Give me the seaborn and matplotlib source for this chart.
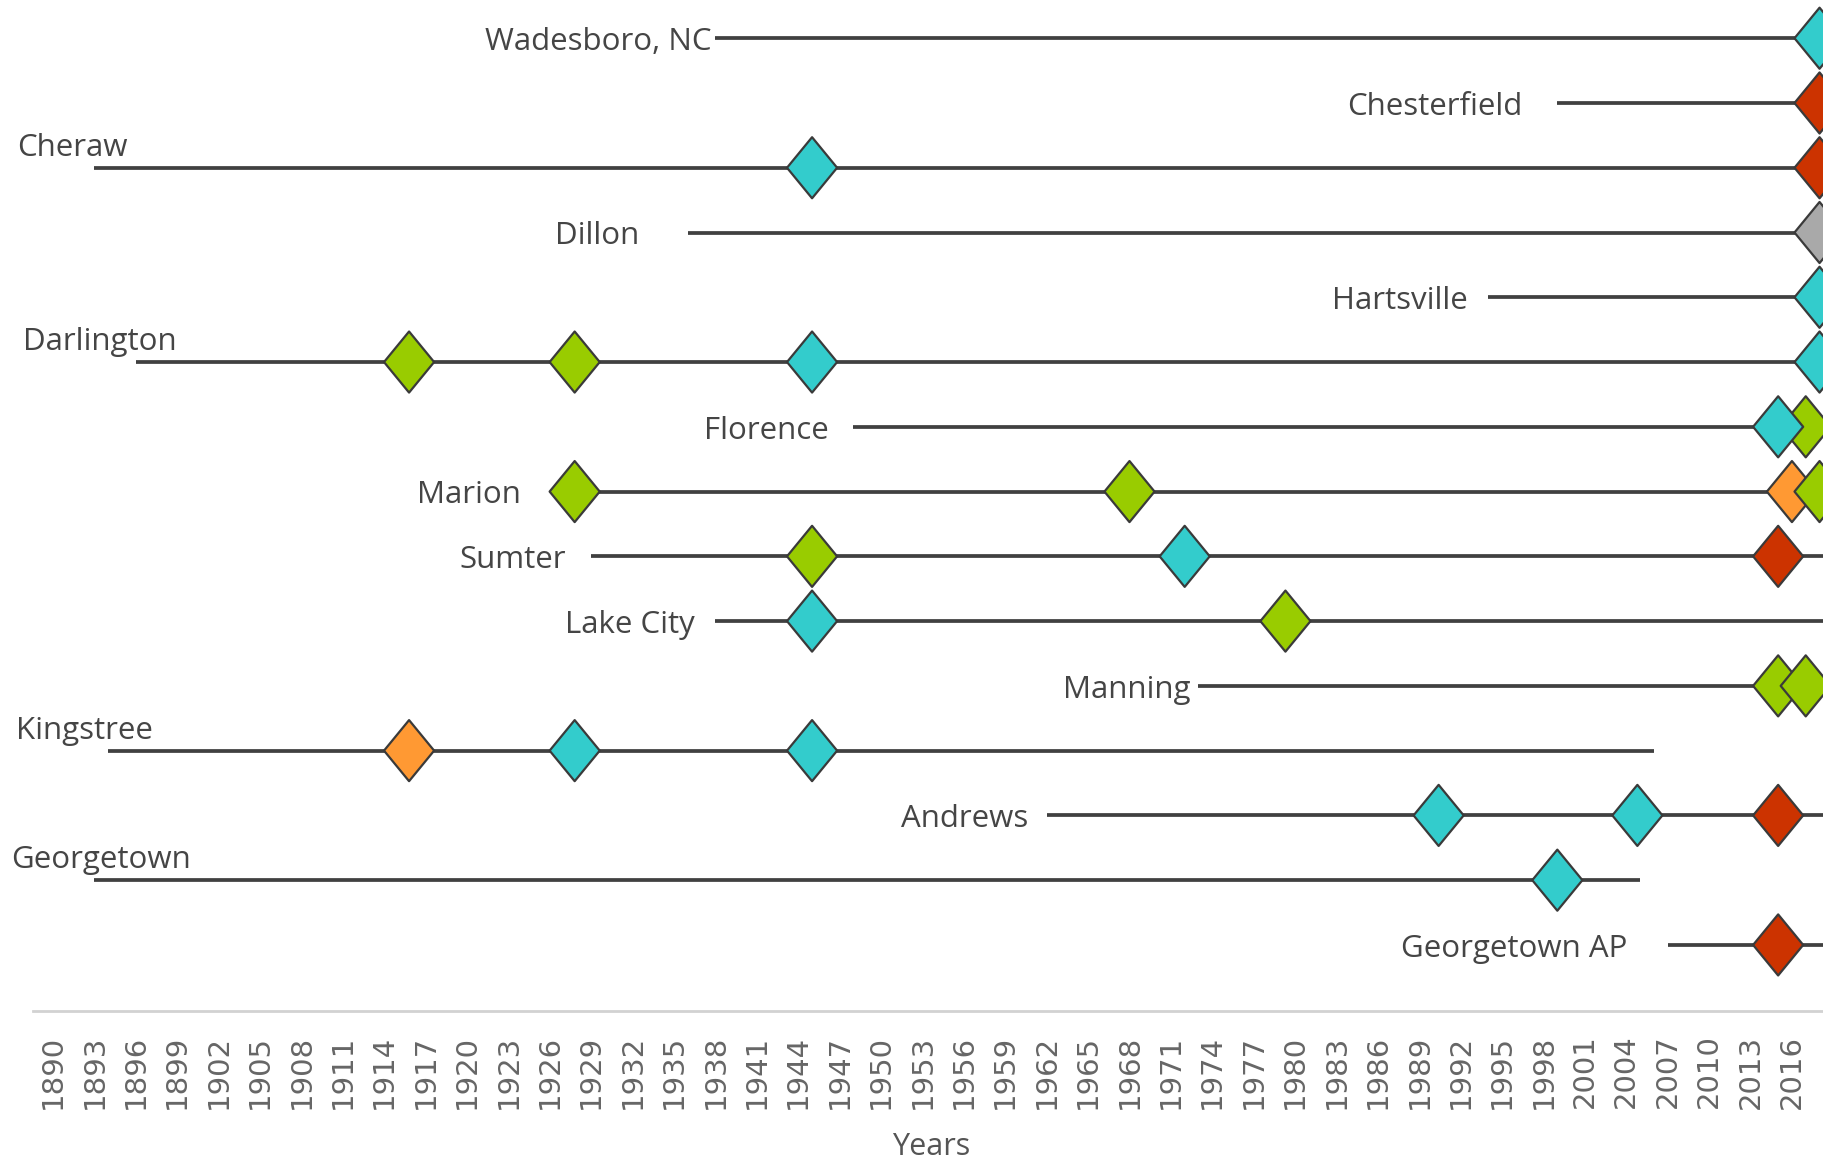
import numpy as np
import pandas as pd
import matplotlib
matplotlib.use("Agg")
import matplotlib.pyplot as plt
from matplotlib.path import Path
import seaborn as sns

# ---------------- data ----------------
stations = ["Wadesboro, NC", "Chesterfield", "Cheraw", "Dillon", "Hartsville",
            "Darlington", "Florence", "Marion", "Sumter", "Lake City",
            "Manning", "Kingstree", "Andrews", "Georgetown", "Georgetown AP"]
line_start = [1938, 1999, 1893, 1936, 1994, 1896, 1948, 1928, 1929, 1938,
              1973, 1894, 1962, 1893, 2007]
line_end = [2018, 2018, 2018, 2018, 2018, 2018, 2018, 2018, 2019, 2019,
            2018, 2006, 2019, 2005, 2019]

event_station = ["Wadesboro, NC", "Chesterfield", "Cheraw", "Cheraw", "Dillon",
                 "Hartsville", "Darlington", "Darlington", "Darlington", "Darlington",
                 "Florence", "Florence", "Marion", "Marion", "Marion", "Marion",
                 "Sumter", "Sumter", "Sumter", "Lake City", "Lake City",
                 "Manning", "Manning", "Kingstree", "Kingstree", "Kingstree",
                 "Andrews", "Andrews", "Andrews", "Georgetown", "Georgetown AP"]
event_year = [2018, 2018, 1945, 2018, 2018,
              2018, 1915.8, 1927.8, 1945, 2018,
              2017, 2015, 1927.8, 1968, 2016, 2018,
              1945, 1972, 2015, 1945, 1979.3,
              2015, 2017, 1915.8, 1927.8, 1945,
              1990.4, 2004.8, 2015, 1999, 2015]
event_kind = ["teal", "red", "teal", "red", "gray",
              "teal", "green", "green", "teal", "teal",
              "green", "teal", "green", "green", "orange", "green",
              "green", "teal", "red", "teal", "green",
              "green", "green", "orange", "teal", "teal",
              "teal", "teal", "red", "teal", "red"]

x_ticks = list(range(1890, 2017, 3))

# ---------------- layout (label anchors, not data) ----------------
label_x = [1937.7, 1996.5, 1887.4, 1932.5, 1992.5, 1887.8, 1946.2, 1923.9,
           1927.2, 1936.5, 1972.4, 1887.3, 1960.7, 1887.0, 2004.1]
label_above = [False, False, True, False, False, True, False, False,
               False, False, False, True, False, True, False]

palette = {"teal": "#33CCCC", "green": "#99CC00", "red": "#CC3300",
           "orange": "#FF9933", "gray": "#A9A9A9"}

# ---------------- figure ----------------
sns.set_theme(style="white")
plt.rcParams["font.family"] = ["Open Sans", "DejaVu Sans"]

fig = plt.figure(figsize=(18.23, 11.6), dpi=100)
ax = fig.add_axes([0, 149 / 1160, 1, 1011 / 1160])

row_of = {s: i for i, s in enumerate(stations)}
lines = pd.DataFrame({"station": stations, "start": line_start, "end": line_end})
lines["row"] = lines["station"].map(row_of)
ax.hlines(lines["row"], lines["start"], lines["end"], color="#404040",
          lw=2.7, zorder=1)

ev = pd.DataFrame({"station": event_station, "year": event_year, "kind": event_kind})
ev["row"] = ev["station"].map(row_of)

diamond = Path([(0, 1), (0.82, 0), (0, -1), (-0.82, 0), (0, 1)],
               [Path.MOVETO, Path.LINETO, Path.LINETO, Path.LINETO, Path.CLOSEPOLY])
sns.scatterplot(data=ev, x="year", y="row", hue="kind", palette=palette,
                marker=diamond, s=44 ** 2, edgecolor="#3a3a3a", linewidth=1.6,
                legend=False, zorder=3, ax=ax)

for i, name in enumerate(stations):
    if label_above[i]:
        ax.text(label_x[i], i - 0.31, name, ha="left", va="center",
                fontsize=22.5, color="#454545")
    else:
        ax.text(label_x[i], i + 0.06, name, ha="right", va="center",
                fontsize=22.5, color="#454545")

ax.set_xlim(1886.16, 2018.25)
ax.set_ylim(15.02, -0.59)
ax.set_xticks(x_ticks)
ax.set_xticklabels([str(t) for t in x_ticks], rotation=90,
                   family="DejaVu Sans")
ax.set_yticks([])
ax.tick_params(axis="x", length=0, pad=17, labelsize=21, labelcolor="#666666")
ax.set_ylabel("")
ax.set_xlabel("Years", fontsize=22, color="#555555", va="center")
ax.xaxis.set_label_coords(931 / 1823, -136 / 1011)

for s in ["top", "right", "left"]:
    ax.spines[s].set_visible(False)
ax.spines["bottom"].set_color("#d2d2d2")
ax.spines["bottom"].set_linewidth(2)
ax.spines["bottom"].set_bounds(1888.55, 2018.25)

fig.savefig("out.png", dpi=100)
